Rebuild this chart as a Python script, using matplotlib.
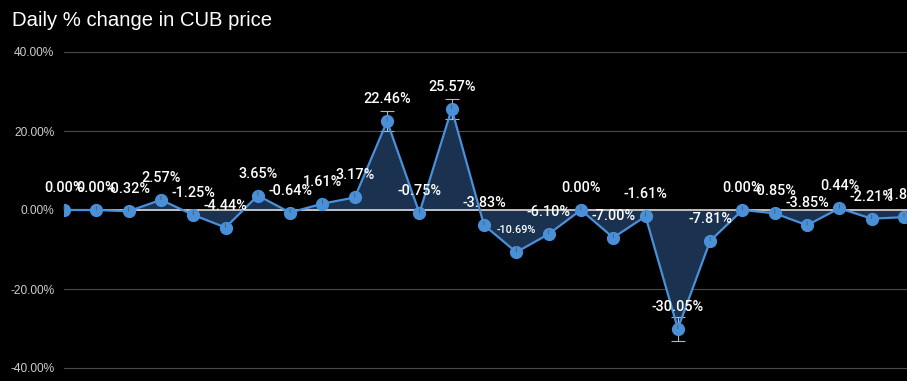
#!/usr/bin/env python3
"""Daily % change in CUB price - dark line/area chart."""
import matplotlib
matplotlib.use("Agg")
import matplotlib.pyplot as plt
import numpy as np

# ── Data ─────────────────────────────────────────────────────────────────────
changes = [0.00, 0.00, -0.32, 2.57, -1.25, -4.44, 3.65, -0.64, 1.61, 3.17,
           22.46, -0.75, 25.57, -3.83, -10.69, -6.10, 0.00, -7.00, -1.61,
           -30.05, -7.81, 0.00, -0.85, -3.85, 0.44, -2.21, -1.80]
labels = ["0.00%", "0.00%", "-0.32%", "2.57%", "-1.25%", "-4.44%", "3.65%",
          "-0.64%", "1.61%", "3.17%", "22.46%", "-0.75%", "25.57%", "-3.83%",
          "-10.69%", "-6.10%", "0.00%", "-7.00%", "-1.61%", "-30.05%",
          "-7.81%", "0.00%", "-0.85%", "-3.85%", "0.44%", "-2.21%", "-1.80%"]
# interval whiskers shown on the big moves
err_idx = [10, 12, 19]
err_size = [2.5, 2.5, 3.0]
yticks = [40, 20, 0, -20, -40]

LINE = "#4a90d9"
FILL = "#1a3150"
W, H = 907, 381

fig = plt.figure(figsize=(W / 100, H / 100), dpi=100, facecolor="black")
ax = fig.add_axes([64 / W, 1 - 375 / H, (W - 64) / W, 330 / H], facecolor="black")

x = np.arange(len(changes))
y = np.array(changes)

ax.fill_between(x, y, 0, color=FILL, linewidth=0, zorder=1)
for yt in yticks:
    ax.axhline(yt, color="#dddddd" if yt == 0 else "#4a4a4a",
               lw=1.2 if yt == 0 else 0.8, zorder=1.5 if yt == 0 else 0.5)
ax.plot(x, y, color=LINE, lw=1.6, marker="o", ms=8.5, zorder=3)

for i, s in zip(err_idx, err_size):
    ax.errorbar(x[i], y[i], yerr=s, color="#9bbbe0", lw=0.8, capsize=5,
                capthick=0.8, zorder=2.5)

for i, (v, lab) in enumerate(zip(changes, labels)):
    fs = 7.8 if lab == "-10.69%" else 10.4
    ax.annotate(lab, (x[i], v), xytext=(0, 22), textcoords="offset pixels",
                ha="center", va="center", color="white", fontsize=fs,
                family="Roboto", weight="medium", zorder=4,
                arrowprops=dict(arrowstyle="-", color="#555555", lw=0.6,
                                shrinkA=6, shrinkB=6))

span = 26 * (W - 64) / (904 - 64)
ax.set_xlim(0, span)
ax.set_ylim(-40 - 7 / 3.95, 40 + 7 / 3.95)
ax.set_yticks(yticks)
ax.set_yticklabels([f"{t:.2f}%" for t in yticks], color="#cccccc",
                   fontsize=8.6, family="Liberation Sans")
ax.tick_params(axis="y", length=0, pad=7)
ax.set_xticks([])
for sp in ax.spines.values():
    sp.set_visible(False)

fig.text(12 / W, 1 - 20 / H, "Daily % change in CUB price", color="white",
         fontsize=14.6, family="Liberation Sans", va="center", ha="left")

fig.savefig("out.png", dpi=100, facecolor="black")
